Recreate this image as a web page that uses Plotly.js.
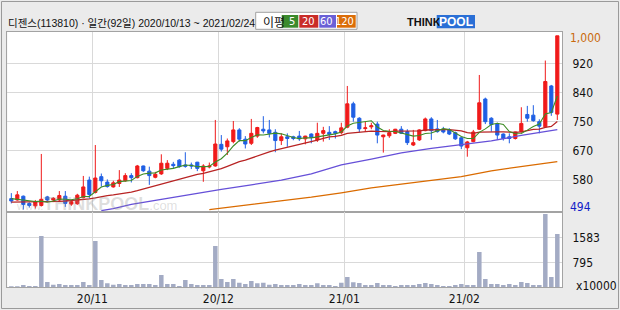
<!DOCTYPE html>
<html><head><meta charset="utf-8">
<script src="https://cdn.plot.ly/plotly-3.0.1.min.js"></script>
<style>html,body{margin:0;padding:0;background:#ebebeb;}#chart{width:620px;height:310px;}</style>
</head><body><div id="chart"></div>
<script>
// ---- data ----
const openP = [526,522,533,512,505,506,531,522,522,533,
  510,511,529,580,544,590,574,560,570,578,
  593,587,621,606,588,598,614,626,638,624,
  624,632,607,618,621,684,677,692,726,699,
  687,708,728,726,719,695,706,706,708,700,
  714,697,716,719,721,718,734,802,760,730,
  735,743,706,709,716,728,721,682,697,724,
  758,729,728,726,718,703,674,692,728,816,
  760,743,714,706,701,721,771,769,750,735,
  854,772];
const highP = [542,548,535,515,522,656,534,530,548,548,
  520,540,592,590,682,599,582,578,609,600,
  600,624,622,619,604,655,638,633,641,661,
  631,633,626,631,755,711,701,752,731,708,
  758,735,766,755,728,716,716,709,723,709,
  716,747,735,737,724,747,854,808,763,750,
  747,750,712,728,729,737,728,726,728,762,
  763,755,735,731,721,706,694,726,886,820,
  763,747,716,716,721,792,796,798,757,928,
  857,1000];
const lowP = [512,520,494,500,497,503,516,516,518,502,
  505,508,527,527,541,561,558,558,560,575,
  573,585,604,566,585,595,609,614,616,616,
  612,606,575,614,619,663,653,687,692,672,
  682,703,716,704,661,682,677,696,694,684,
  687,691,692,697,701,713,731,750,719,721,
  728,687,660,703,714,714,682,679,694,722,
  697,718,716,711,697,670,648,690,726,743,
  721,697,695,687,698,718,750,750,716,733,
  767,755];
const closeP = [519,537,509,506,517,524,522,527,535,512,
  517,536,560,538,586,578,561,572,580,593,
  587,621,607,593,597,629,629,622,619,620,
  621,614,621,621,685,670,694,726,699,685,
  716,733,723,716,695,706,701,701,700,708,
  704,716,724,713,716,732,802,763,729,732,
  738,711,711,718,728,716,689,689,726,758,
  724,721,720,714,700,679,691,720,805,750,
  742,711,701,701,720,745,760,753,737,867,
  777,1000];
const volume = [32,32,74,42,42,1632,170,85,106,74,
  74,74,170,74,1473,233,127,85,106,74,
  74,106,106,106,74,392,106,106,42,233,
  106,74,74,74,1314,265,170,265,148,106,
  201,127,148,85,106,74,74,74,106,74,
  74,127,74,74,42,148,329,159,138,74,
  74,138,74,74,42,74,74,74,106,138,
  106,74,42,42,74,106,74,74,1124,265,
  106,106,74,106,74,170,138,74,74,2332,
  329,1696];
const ma5 = [526,524,520,518,517.6,518.6,515.6,519.2,525,524,
  522.6,525.4,532,532.6,547.4,559.6,564.6,567,575.4,576.8,
  578.6,590.6,597.6,600.2,601,609.4,611,614,619.2,623.8,
  622.2,619.2,619,619.4,632.4,642.2,658.2,679.2,694.8,694.8,
  704,711.8,711.2,714.6,716.6,714.6,708.2,703.8,700.6,703.2,
  702.8,705.8,710.4,713,714.6,720.2,737.4,745.2,748.4,751.6,
  752.8,734.6,724.2,722,721.2,716.8,712.4,708,709.6,715.6,
  717.2,723.6,729.8,727.4,715.8,706.8,700.8,700.8,719,729,
  741.6,745.6,741.8,721,715,715.6,725.4,735.8,743,772.4,
  776.8,824.8];
const ma20 = [516,516,516,516,516,516,517,517,518,519,
  520,521,523,525,528,532,535,537,539,541.5,
  544.9,549.1,554,558.3,562.3,567.6,572.9,577.7,581.9,587.3,
  592.5,596.4,599.4,603.6,608.5,613.1,619.8,627.5,633.4,638,
  644.5,650.1,655.9,662,666.9,670.8,674.4,678.3,682.4,686.8,
  690.9,696,701.2,705.8,707.3,710.4,715.8,717.7,719.2,721.5,
  722.6,721.5,720.9,721,722.7,723.2,722.6,722,723.3,725.8,
  726.8,727,726.8,726.9,726.1,723.4,717.9,715.7,719.5,720.4,
  720.6,720.6,720.1,719.3,718.9,720.3,723.9,727.6,728.1,733.6,
  736.2,750.2];
const ma60Idx = [15,17,20,25,30,35,40,45,50,55,60,65,70,75,80,85,91];
const ma60Val = [491,497,509,524,538,553,566,580,598,624,641,659,672,683,694,710,727];
const ma120Idx = [33,36,40,45,50,55,60,65,70,75,80,85,91];
const ma120Val = [494,500,510,520,530,543,557,568,580,590,607,620,634];
const monthStartIdx = [14,35,56,76];
const monthLabels = ['20/11','20/12','21/01','21/02'];
const priceTickVals = [580,665,750,835,920];
const priceTickText = ['580','670','750','840','920'];
const volTickVals = [795,1583];
const volTickText = ['795','1583'];
const headerText = '디젠스(113810) · 일간(92일) 2020/10/13 ~ 2021/02/24';

// ---- styling ----
const W = 620, H = 310;
const px = x => x / W, py = y => 1 - y / H;
const RED = '#f01a1a', BLUE = '#1f5fe4';
const NARROW = 'Liberation Sans Narrow, DejaVu Sans Condensed, Liberation Sans, Arial, sans-serif';
const KFONT = 'Liberation Sans, Noto Sans CJK KR, sans-serif';
const xs = closeP.map((_, i) => i);
const gridX = monthStartIdx.map(i => i - 0.5);

const traces = [
  {type:'scatter', mode:'lines', x:xs, y:ma20, line:{color:'#b82424', width:1.3}, hoverinfo:'skip', xaxis:'x', yaxis:'y'},
  {type:'scatter', mode:'lines', x:ma60Idx, y:ma60Val, line:{color:'#6650d8', width:1.3}, hoverinfo:'skip', xaxis:'x', yaxis:'y'},
  {type:'scatter', mode:'lines', x:ma120Idx, y:ma120Val, line:{color:'#da6b00', width:1.3}, hoverinfo:'skip', xaxis:'x', yaxis:'y'},
  {type:'scatter', mode:'lines', x:xs, y:ma5, line:{color:'#3d8c25', width:1.1}, hoverinfo:'skip', xaxis:'x', yaxis:'y'},
  {type:'candlestick', x:xs, open:openP, high:highP, low:lowP, close:closeP, xaxis:'x', yaxis:'y',
   increasing:{line:{color:RED, width:1}, fillcolor:RED},
   decreasing:{line:{color:BLUE, width:1}, fillcolor:BLUE}, whiskerwidth:0, hoverinfo:'skip'},
  {type:'bar', x:xs, y:volume, marker:{color:'#a3abc4', line:{width:0}}, width:0.75, xaxis:'x2', yaxis:'y2', hoverinfo:'skip'}
];

const xdom = [px(7.3), px(562)];
const gridColor = '#d9d9d9', borderColor = '#a3a3a3';
const tickFont = {family:NARROW, size:12, color:'#111'};
const layout = {
  width:W, height:H, margin:{l:0,r:0,t:0,b:0},
  paper_bgcolor:'#ebebeb', plot_bgcolor:'#ffffff',
  showlegend:false, boxgap:0.25,
  font:{family:NARROW, size:12, color:'#111'},
  xaxis:{domain:xdom, anchor:'y', range:[-0.67, 91.78], tickvals:gridX, showticklabels:false, ticks:'',
    showgrid:true, gridcolor:gridColor, gridwidth:1, zeroline:false, showline:true, mirror:true,
    linecolor:borderColor, linewidth:1, rangeslider:{visible:false}, fixedrange:true},
  xaxis2:{domain:xdom, anchor:'y2', matches:'x', tickvals:gridX, ticktext:monthLabels, ticks:'',
    showgrid:true, gridcolor:gridColor, gridwidth:1, zeroline:false, showline:true, mirror:true,
    linecolor:borderColor, linewidth:1, tickfont:tickFont, ticklabelstandoff:0},
  yaxis:{domain:[py(212), py(31.7)], anchor:'x', range:[487, 1012], side:'right', tickvals:priceTickVals,
    ticktext:priceTickText, ticks:'', showgrid:true, gridcolor:gridColor, gridwidth:1, zeroline:false,
    showline:true, mirror:true, linecolor:borderColor, linewidth:1, tickfont:tickFont, ticklabelstandoff:7},
  yaxis2:{domain:[py(287.3), py(212)], anchor:'x2', range:[0, 2394.5], side:'right', tickvals:volTickVals,
    ticktext:volTickText, ticks:'', showgrid:true, gridcolor:gridColor, gridwidth:1, zeroline:false,
    showline:true, mirror:true, linecolor:borderColor, linewidth:1, tickfont:tickFont, ticklabelstandoff:7},
  shapes:[
    {type:'rect', xref:'paper', yref:'paper', x0:px(1.5), x1:px(618.5), y0:py(308.5), y1:py(1.5), line:{color:'#9a9a9a', width:1}},
    {type:'rect', xref:'paper', yref:'paper', x0:px(255.7), x1:px(357), y0:py(29.3), y1:py(12.3), fillcolor:'#ffffff', line:{color:'#a0a0a0', width:1}},
    {type:'rect', xref:'paper', yref:'paper', x0:px(281.7), x1:px(298.3), y0:py(27.7), y1:py(15), fillcolor:'#3b8a2c', line:{width:0}},
    {type:'rect', xref:'paper', yref:'paper', x0:px(299.3), x1:px(318.3), y0:py(27.7), y1:py(15), fillcolor:'#c92c28', line:{width:0}},
    {type:'rect', xref:'paper', yref:'paper', x0:px(319.3), x1:px(336), y0:py(27.7), y1:py(15), fillcolor:'#6a60d6', line:{width:0}},
    {type:'rect', xref:'paper', yref:'paper', x0:px(337), x1:px(355.7), y0:py(27.7), y1:py(15), fillcolor:'#db6d08', line:{width:0}},
    {type:'rect', xref:'paper', yref:'paper', x0:px(436.7), x1:px(475), y0:py(28.3), y1:py(15), fillcolor:'#2a6fd6', line:{width:0}}
  ],
  annotations:[
    {text:headerText, xref:'paper', yref:'paper', x:px(6), y:py(22.5), xanchor:'left', yanchor:'middle', showarrow:false, font:{family:KFONT, size:10.5, color:'#111'}},
    {text:'이평', xref:'paper', yref:'paper', x:px(261), y:py(21), xanchor:'left', yanchor:'middle', showarrow:false, font:{family:'Noto Sans CJK KR, sans-serif', size:12, color:'#111'}},
    {text:'5', xref:'paper', yref:'paper', x:px(297), y:py(21.3), xanchor:'right', yanchor:'middle', showarrow:false, font:{family:NARROW, size:11, color:'#ffffff'}},
    {text:'20', xref:'paper', yref:'paper', x:px(317), y:py(21.3), xanchor:'right', yanchor:'middle', showarrow:false, font:{family:NARROW, size:11, color:'#ffffff'}},
    {text:'60', xref:'paper', yref:'paper', x:px(335), y:py(21.3), xanchor:'right', yanchor:'middle', showarrow:false, font:{family:NARROW, size:11, color:'#ffffff'}},
    {text:'120', xref:'paper', yref:'paper', x:px(355.5), y:py(21.3), xanchor:'right', yanchor:'middle', showarrow:false, font:{family:NARROW, size:11, color:'#ffffff'}},
    {text:'<b>THINK</b>', xref:'paper', yref:'paper', x:px(405), y:py(21.8), xanchor:'left', yanchor:'middle', showarrow:false, font:{family:'Liberation Sans, Arial, sans-serif', size:11, color:'#111'}},
    {text:'<b>POOL</b>', xref:'paper', yref:'paper', x:px(455.8), y:py(21.8), xanchor:'center', yanchor:'middle', showarrow:false, font:{family:'Liberation Sans, Arial, sans-serif', size:12, color:'#ffffff'}},
    {text:'1,000', xref:'paper', yref:'paper', x:px(568), y:py(38), xanchor:'left', yanchor:'middle', showarrow:false, font:{family:NARROW, size:12, color:'#c96a0c'}},
    {text:'494', xref:'paper', yref:'paper', x:px(568), y:py(206.7), xanchor:'left', yanchor:'middle', showarrow:false, font:{family:NARROW, size:12, color:'#1020c8'}},
    {text:'x10000', xref:'paper', yref:'paper', x:px(574), y:py(286), xanchor:'left', yanchor:'middle', showarrow:false, font:{family:NARROW, size:12, color:'#111'}},
    {text:'<span style="font-size:11px">www.</span><b>THINKPOOL</b><span style="font-size:13px">.com</span>', xref:'paper', yref:'paper', x:px(96), y:py(204), xanchor:'center', yanchor:'middle', showarrow:false, font:{family:'Liberation Sans, Arial, sans-serif', size:18, color:'rgba(140,140,140,0.28)'}}
  ]
};
Plotly.newPlot('chart', traces, layout, {staticPlot:true, displayModeBar:false});
</script></body></html>
